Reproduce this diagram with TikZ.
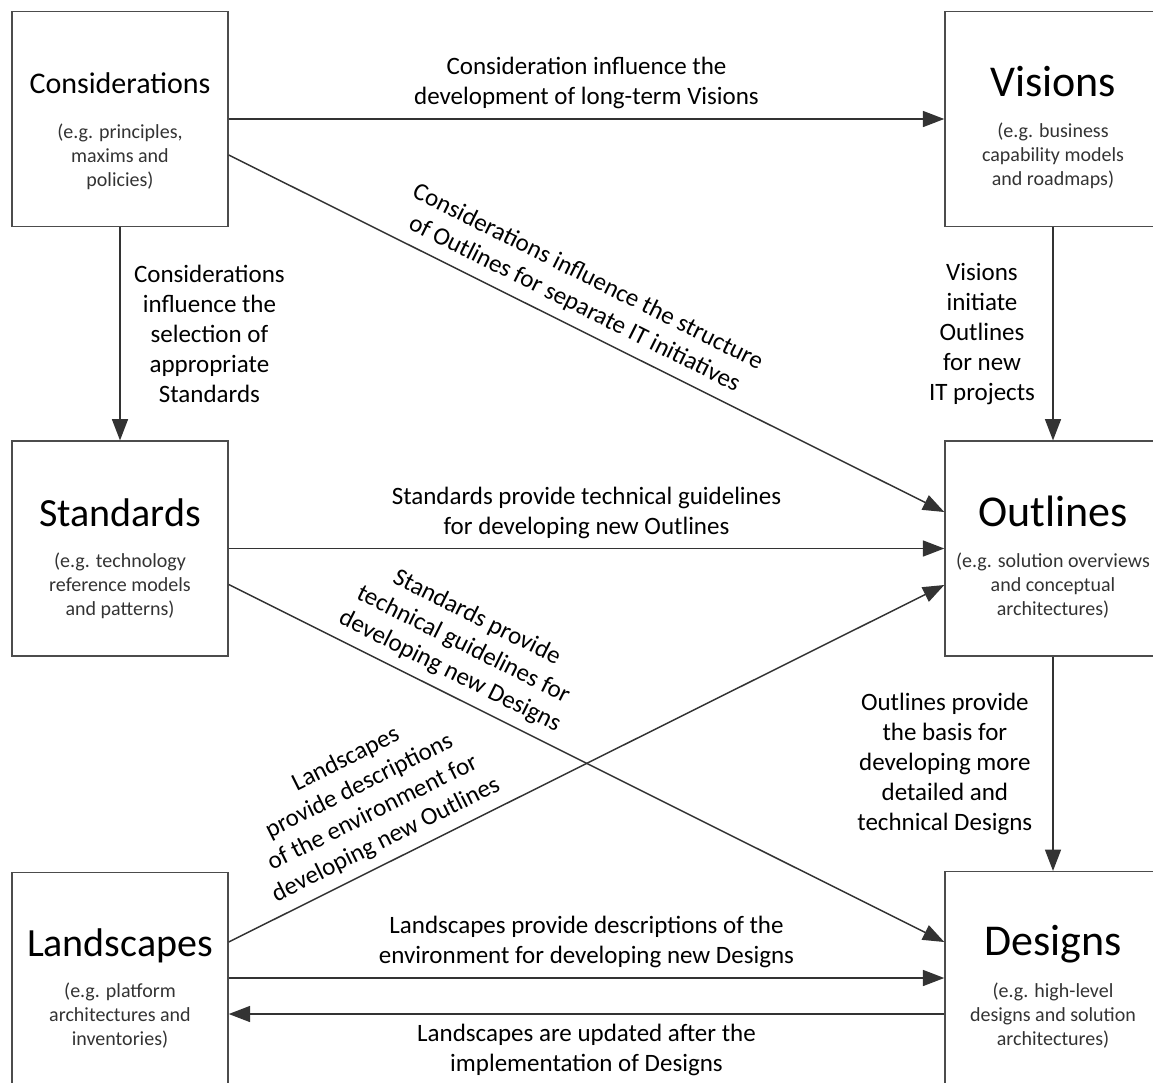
\documentclass[tikz,border=0pt]{standalone}
\usepackage{fontspec}
\setmainfont{Carlito}
\usetikzlibrary{arrows.meta,calc,positioning}

\tikzset{
  box/.style={draw=black!70, line width=1.1pt, minimum width=162pt, minimum height=161pt, inner sep=0pt},
  ttl/.style={anchor=base, inner sep=0pt, font=\fontsize{33}{40}\selectfont},
  sub/.style={anchor=base, align=center, inner sep=0pt, text=black!80, font=\fontsize{15}{18}\selectfont},
  lbl/.style={align=center, inner sep=7pt, text=black, font=\fontsize{18.75}{22.5}\selectfont},
  link/.style={draw=black!80, line width=1.1pt, -{Triangle[length=16pt, width=12pt]}},
}

\begin{document}
\begin{tikzpicture}[x=0.75pt, y=-0.75pt]
\clip (0,0) rectangle (1153,1082);

% boxes
\node[box] (cons) at (120,119) {};
\node[box] (vis)  at (1053,119) {};
\node[box] (std)  at (120,548.5) {};
\node[box] (outl) at (1053,548.5) {};
\node[box] (land) at (120,980) {};
\node[box] (des)  at (1053,979) {};

% titles, and the last line of each subtitle sits on its base
\node[ttl, font=\fontsize{22.5}{27}\selectfont] (cons-t) at ($(cons)+(0,-26)$) {Considerations};
\node[sub] (cons-s) at ($(cons)+(0,67)$) {(e.g. principles,\\maxims and\\policies)};
\node[ttl] (vis-t) at ($(vis)+(0,-23)$) {Visions};
\node[sub] (vis-s) at ($(vis)+(0,66.5)$) {(e.g. business\\capability models\\and roadmaps)};
\node[ttl, font=\fontsize{30}{36}\selectfont] (std-t) at ($(std)+(0,-22.5)$) {Standards};
\node[sub] (std-s) at ($(std)+(0,66.5)$) {(e.g. technology\\reference models\\and patterns)};
\node[ttl] (outl-t) at ($(outl)+(0,-22.5)$) {Outlines};
\node[sub] (outl-s) at ($(outl)+(0,66.5)$) {(e.g. solution overviews\\and conceptual\\architectures)};
\node[ttl, font=\fontsize{30}{36}\selectfont] (land-t) at ($(land)+(0,-24)$) {Landscapes};
\node[sub] (land-s) at ($(land)+(0,65)$) {(e.g. platform\\architectures and\\inventories)};
\node[ttl] (des-t) at ($(des)+(0,-24)$) {Designs};
\node[sub] (des-s) at ($(des)+(0,66.5)$) {(e.g. high-level\\designs and solution\\architectures)};

% links
\draw[link] (cons.east) -- (vis.west)
  node[lbl, midway, above] (cv) {Consideration influence the\\development of long-term Visions};
\draw[link] ($(cons.east)+(0,36)$) -- ($(outl.west)+(0,-36.5)$)
  node[lbl, pos=.47, sloped, above] (co) {Considerations influence the structure\\of Outlines for separate IT initiatives};
\draw[link] (cons) -- (std)
  node[lbl, midway, right=3pt] (cs) {Considerations\\influence the\\selection of\\appropriate\\Standards};
\draw[link] (vis) -- (outl)
  node[lbl, midway, left=6pt] (vo) {Visions\\initiate\\Outlines\\for new\\IT projects};
\draw[link] (std) -- (outl)
  node[lbl, midway, above] (so) {Standards provide technical guidelines\\for developing new Outlines};
\draw[link] ($(std.east)+(0,36)$) -- ($(des.west)+(0,-37)$)
  node[lbl, pos=.296, sloped, above] (sd) {Standards provide\\technical guidelines for\\developing new Designs};
\draw[link] ($(land.east)+(0,-38)$) -- ($(outl.west)+(0,36.5)$)
  node[lbl, pos=.233, sloped, above] (lo) {Landscapes\\provide descriptions\\of the environment for\\developing new Outlines};
\draw[link] (outl) -- (des)
  node[lbl, midway, left=8pt] (od) {Outlines provide\\the basis for\\developing more\\detailed and\\technical Designs};
\draw[link] ($(land.east)+(0,-2)$) -- ($(des.west)+(0,-1)$)
  node[lbl, midway, above] (ld) {Landscapes provide descriptions of the\\environment for developing new Designs};
\draw[link] ($(des.west)+(0,35)$) -- ($(land.east)+(0,34)$)
  node[lbl, midway, below] (dl) {Landscapes are updated after the\\implementation of Designs};

\end{tikzpicture}
\end{document}
